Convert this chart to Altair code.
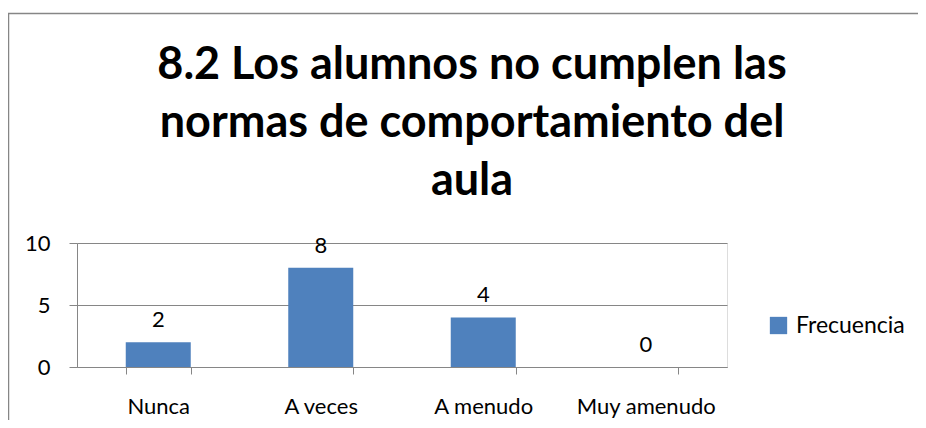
import altair as alt
import pandas as pd

categorias = ["Nunca", "A veces", "A menudo", "Muy amenudo"]
frecuencia = [2, 8, 4, 0]
serie = "Frecuencia"
titulo = ["8.2 Los alumnos no cumplen las", "normas de comportamiento del", "aula"]
y_ticks = [0, 5, 10]

df = pd.DataFrame({"categoria": categorias, "valor": frecuencia, "serie": [serie] * len(categorias)})

FONT = "Lato"
GRAY = "#868686"
BLUE = "#4F81BD"

x_enc = alt.X(
    "categoria:N", sort=categorias, title=None,
    scale=alt.Scale(paddingInner=0.6, paddingOuter=0.3),
    axis=alt.Axis(labelAngle=0, tickBand="extent", tickSize=7, tickColor=GRAY,
                  domainColor=GRAY, labelFont=FONT, labelFontSize=22, labelColor="black",
                  labelPadding=39, labelBaseline="alphabetic", grid=False),
)
y_enc = alt.Y(
    "valor:Q", title=None, scale=alt.Scale(domain=[0, 10]),
    axis=alt.Axis(values=y_ticks, tickSize=8, tickColor=GRAY, domainColor=GRAY,
                  gridColor=GRAY, labelFont=FONT, labelFontSize=22, labelColor="black",
                  labelPadding=19),
)

bars = alt.Chart(df).mark_bar().encode(
    x=x_enc, y=y_enc,
    color=alt.Color("serie:N", scale=alt.Scale(range=[BLUE]),
                    legend=alt.Legend(title=None, orient="none", legendX=690, legendY=71,
                                      symbolType="square", symbolSize=300, symbolStrokeWidth=0,
                                      labelFont=FONT, labelFontSize=23, labelColor="black",
                                      labelOffset=6, padding=0)),
)
labels = alt.Chart(df).mark_text(baseline="alphabetic", dy=-15, fontSize=22, font=FONT,
                                 color="black").encode(
    x=alt.X("categoria:N", sort=categorias), y="valor:Q", text="valor:Q")

border = alt.Chart(alt.Data(values=[{}])).mark_rect(
    fillOpacity=0, stroke=GRAY, strokeWidth=1.5, clip=False
).encode(x=alt.value(-68.5), x2=alt.value(846), y=alt.value(-229.5), y2=alt.value(182))

chart = alt.layer(border, bars, labels).properties(
    width=650, height=124,
    title=alt.TitleParams(titulo, anchor="middle", dx=70, dy=211, offset=20, font=FONT,
                          fontSize=45, fontWeight="bold", lineHeight=58, color="black"),
    autosize=alt.AutoSizeParams(type="none"),
    padding={"left": 69, "top": 235, "right": 191, "bottom": 53},
).configure_view(strokeWidth=0).configure(background="white")

chart.save("out.html", embed_options={"renderer": "svg", "actions": False})
